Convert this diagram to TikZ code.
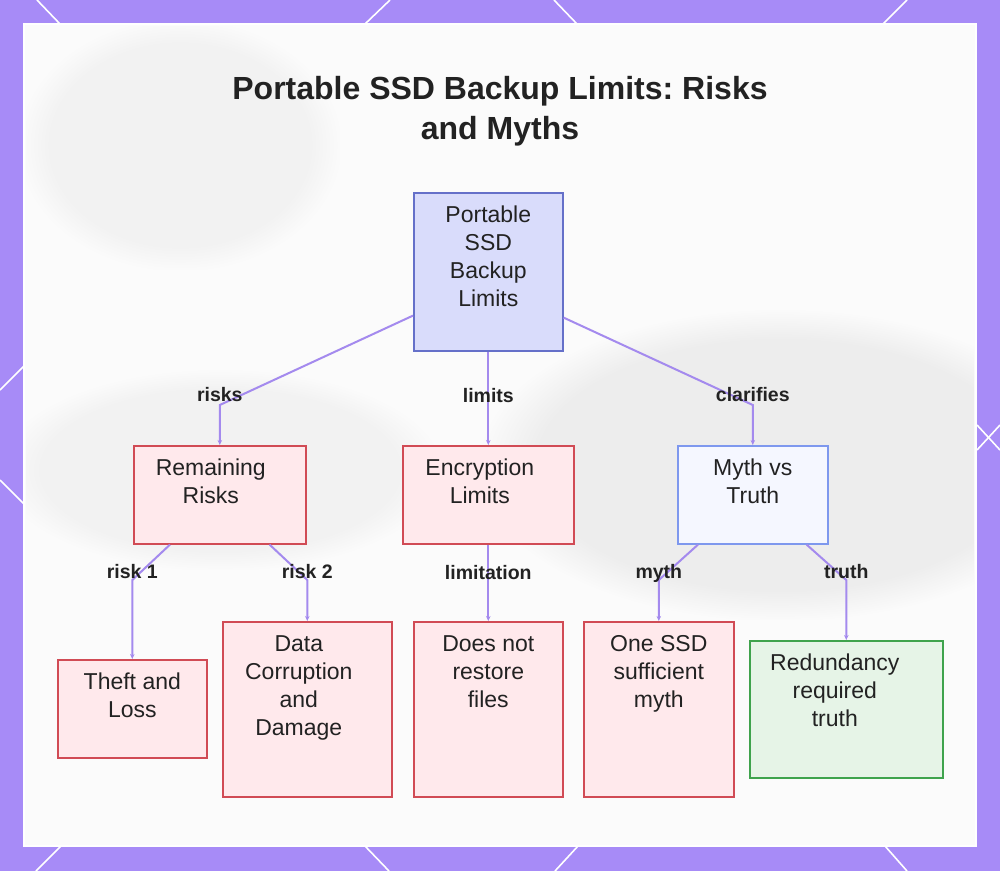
\documentclass[tikz,border=0pt]{standalone}
\usepackage{fontspec}
\setmainfont{Liberation Sans}
\usetikzlibrary{arrows.meta,fadings}
\definecolor{bord}{HTML}{A78BF7}
\definecolor{edgec}{HTML}{A48AEE}
\definecolor{txt}{HTML}{222222}
\definecolor{rootfill}{HTML}{D9DCFB}
\definecolor{rootdraw}{HTML}{6570C9}
\definecolor{redfill}{HTML}{FFE9EC}
\definecolor{reddraw}{HTML}{D14B55}
\definecolor{bluefill}{HTML}{F5F7FF}
\definecolor{bluedraw}{HTML}{7E98EE}
\definecolor{grnfill}{HTML}{E6F4E7}
\definecolor{grndraw}{HTML}{3FA34D}
\definecolor{panel}{HTML}{FBFBFB}
% width, height, twice the leftward shift, text
\newcommand{\bt}[4]{\parbox[t][#2pt][t]{#1pt}{\centering\rightskip=#3pt plus 1fil\rule{0pt}{30pt}#4}}
\tikzset{
  bx/.style={draw, line width=1.6pt, inner sep=0pt, anchor=north west, text=txt,
    font=\fontsize{23}{28}\selectfont},
  rootbox/.style={bx, fill=rootfill, draw=rootdraw},
  redbox/.style={bx, fill=redfill, draw=reddraw},
  bluebox/.style={bx, fill=bluefill, draw=bluedraw},
  grnbox/.style={bx, fill=grnfill, draw=grndraw},
  edge/.style={draw=edgec, line width=2pt, -{Stealth[length=5pt,width=4.5pt]}},
  lbl/.style={font=\bfseries\fontsize{19.5}{22}\selectfont, text=txt, anchor=base, inner sep=0pt},
  deco/.style={white, line width=1.6pt},
  soft/.style={path fading=circle with fuzzy edge 20 percent}
}
\begin{document}
\frenchspacing
\begin{tikzpicture}[x=1pt,y=-1pt]
\useasboundingbox (0,0) rectangle (1000,871);
\fill[bord] (0,0) rectangle (1000,871);
% border decorations
\draw[deco] (37,0) -- (60,24);
\draw[deco] (365,24) -- (390,0);
\draw[deco] (554,0) -- (577,24);
\draw[deco] (883,24) -- (907,0);
\draw[deco] (0,390) -- (24,366);
\draw[deco] (0,480) -- (24,504);
\draw[deco] (977,425) -- (1000,450);
\draw[deco] (977,450) -- (1000,425);
\draw[deco] (61,846) -- (36,871);
\draw[deco] (365,846) -- (389,871);
\draw[deco] (578,846) -- (555,871);
\draw[deco] (885,846) -- (907,871);
% panel
\fill[panel, draw=white, line width=1.5pt] (24,24) rectangle (976,846);
\begin{scope}
\clip (26,26) rectangle (974,844);
\fill[black!7, soft] (480,310) rectangle (1080,620);
\fill[black!5, soft] (0,370) rectangle (440,570);
\fill[black!5, soft] (20,20) rectangle (340,270);
\end{scope}
% title
\node[font=\bfseries\fontsize{32}{40}\selectfont, align=center, text=txt] (title) at (500,111)
  {Portable SSD Backup Limits: Risks\\and Myths};
% nodes
\node[rootbox] (root) at (413,192) {\bt{149}{158}{0}{Portable\\SSD\\Backup\\Limits}};
\node[redbox] (rr) at (133,445) {\bt{172}{98}{18}{Remaining\\Risks}};
\node[redbox] (enc) at (402,445) {\bt{171}{98}{17}{Encryption\\Limits}};
\node[bluebox] (mvt) at (677,445) {\bt{150}{98}{0}{Myth vs\\Truth}};
\node[redbox] (theft) at (57,659) {\bt{149}{98}{0}{Theft and\\Loss}};
\node[redbox] (dc) at (222,621) {\bt{169}{175}{17}{Data\\Corruption\\and\\Damage}};
\node[redbox] (dnr) at (413,621) {\bt{149}{175}{0}{Does not\\restore\\files}};
\node[redbox] (one) at (583,621) {\bt{150}{175}{0}{One SSD\\sufficient\\myth}};
\node[grnbox] (red) at (749,640) {\bt{193}{137}{23}{Redundancy\\required\\truth}};
% edges
\draw[edge] ([yshift=36pt]root.south west) -- ([yshift=40pt]rr.north)
  node[lbl, yshift=3.5pt] {risks} -- (rr.north);
\draw[edge] (root.south) -- node[lbl, pos=0.542] {limits} (enc.north);
\draw[edge] ([yshift=34pt]root.south east) -- ([yshift=40pt]mvt.north)
  node[lbl, yshift=3.5pt] {clarifies} -- (mvt.north);
\draw[edge] ([xshift=37pt]rr.south west) -- ([yshift=79pt]theft.north)
  node[lbl, yshift=1.5pt] {risk 1} -- (theft.north);
\draw[edge] ([xshift=-37pt]rr.south east) -- ([yshift=41pt]dc.north)
  node[lbl, yshift=1.5pt] {risk 2} -- (dc.north);
\draw[edge] (enc.south) -- node[lbl, pos=0.455] {limitation} (dnr.north);
\draw[edge] ([xshift=21pt]mvt.south west) -- ([yshift=41pt]one.north)
  node[lbl, yshift=1.5pt] {myth} -- (one.north);
\draw[edge] ([xshift=-22pt]mvt.south east) -- ([yshift=60pt]red.north)
  node[lbl, yshift=1.5pt] {truth} -- (red.north);
\end{tikzpicture}
\end{document}
